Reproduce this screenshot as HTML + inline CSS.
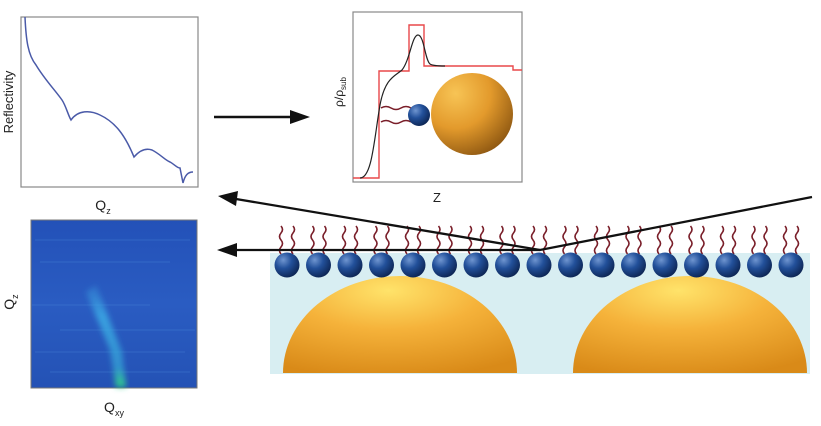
<!DOCTYPE html>
<html><head><meta charset="utf-8"><style>
html,body{margin:0;padding:0;background:#fff;width:821px;height:426px;overflow:hidden}
svg{display:block}
text{font-family:"Liberation Sans",sans-serif;fill:#222}
</style></head><body>
<svg width="821" height="426" viewBox="0 0 821 426" xmlns="http://www.w3.org/2000/svg">
<defs>
<radialGradient id="ball" cx="0.35" cy="0.3" r="0.75">
<stop offset="0" stop-color="#6f95d0"/><stop offset="0.45" stop-color="#22509a"/><stop offset="1" stop-color="#0c2452"/>
</radialGradient>
<radialGradient id="gold" cx="0.45" cy="0.15" r="0.9">
<stop offset="0" stop-color="#ffe36a"/><stop offset="0.45" stop-color="#f5b23a"/><stop offset="1" stop-color="#d98a18"/>
</radialGradient>
<radialGradient id="gold2" cx="0.3" cy="0.25" r="0.85">
<stop offset="0" stop-color="#f7c455"/><stop offset="0.5" stop-color="#e39a2c"/><stop offset="1" stop-color="#8a5410"/>
</radialGradient>
<linearGradient id="hm" x1="0" y1="0" x2="0" y2="1">
<stop offset="0" stop-color="#2351b8"/><stop offset="0.5" stop-color="#2a5cc2"/><stop offset="1" stop-color="#2452b5"/>
</linearGradient>
<linearGradient id="streak" x1="0" y1="0" x2="0" y2="1">
<stop offset="0" stop-color="#3aa0e0" stop-opacity="0.3"/><stop offset="0.3" stop-color="#3db0e8" stop-opacity="0.8"/><stop offset="0.8" stop-color="#35a8d8" stop-opacity="0.7"/><stop offset="1" stop-color="#30d080" stop-opacity="1"/>
</linearGradient>
<filter id="blur"><feGaussianBlur stdDeviation="3"/></filter>
<g id="lip">
<path d="M-6,254 q-3,-3.5 0,-7 q3,-3.5 0,-7 q-3,-3.5 0,-7 q3,-3.5 0,-7" fill="none" stroke="#7a1f2a" stroke-width="1.6"/>
<path d="M6,254 q-3,-3.5 0,-7 q3,-3.5 0,-7 q-3,-3.5 0,-7 q3,-3.5 0,-7" fill="none" stroke="#7a1f2a" stroke-width="1.6"/>
<circle cx="0" cy="265" r="12.5" fill="url(#ball)"/>
</g>
<marker id="ah" markerWidth="10" markerHeight="8" refX="1" refY="4" orient="auto" markerUnits="userSpaceOnUse"><path d="M0,4 L18,0 L18,8 Z" fill="#111"/></marker>
</defs>

<!-- plot 1 -->
<rect x="21" y="17" width="177" height="170" fill="#fff" stroke="#888" stroke-width="1.2"/>
<path d="M25,17 C26,40 28,55 36,65 C45,80 55,90 62,100 C66,106 68,115 71,120 C78,110 90,110 100,115 C115,122 125,135 134,157 C140,150 146,148 152,150 C160,154 165,160 170,162 C174,164 177,168 180,168 L183,183 C185,175 188,172 193,172" fill="none" stroke="#4a5aa8" stroke-width="1.5"/>
<text x="13" y="102" font-size="13" transform="rotate(-90 13 102)" text-anchor="middle">Reflectivity</text>
<text x="103" y="210" font-size="14" text-anchor="middle">Q<tspan font-size="9" dy="4">z</tspan></text>

<!-- arrow right -->
<line x1="214" y1="117" x2="292" y2="117" stroke="#111" stroke-width="2.5"/>
<path d="M310,117 L290,110 L290,124 Z" fill="#111"/>

<!-- plot 2 -->
<rect x="353" y="12" width="169" height="170" fill="#fff" stroke="#888" stroke-width="1.2"/>
<path d="M353,178 L379,178 L379,71 L409,71 L409,25 L424,25 L424,66 L513,66 L513,70 L522,70" fill="none" stroke="#e8484a" stroke-width="1.4"/>
<path d="M360,178 C372,178 374,140 380,105 C385,78 395,76 402,70 C410,60 412,35 418,35 C424,35 425,60 430,64 C433,66 440,66 445,66" fill="none" stroke="#222" stroke-width="1.2"/>
<ellipse cx="472" cy="114" rx="41" ry="41" fill="url(#gold2)"/>
<path d="M381,108 q5,-3 10,0 q5,3 10,0 q5,-3 10,0 M381,122 q5,-3 10,0 q5,3 10,0 q5,-3 10,0" fill="none" stroke="#7a1f2a" stroke-width="1.6"/>
<circle cx="419" cy="115" r="11" fill="url(#ball)"/>
<text x="343" y="92" font-size="12" transform="rotate(-90 343 92)" text-anchor="middle">ρ/ρ<tspan font-size="8" dy="3">sub</tspan></text>
<text x="437" y="202" font-size="13" text-anchor="middle">Z</text>

<!-- heatmap -->
<rect x="31" y="220" width="166" height="168" fill="url(#hm)" stroke="#777" stroke-width="1"/>
<g opacity="0.25" stroke="#5aa0e8" stroke-width="1">
<line x1="35" y1="240" x2="190" y2="240"/><line x1="40" y1="262" x2="170" y2="262"/><line x1="32" y1="305" x2="150" y2="305"/><line x1="60" y1="330" x2="195" y2="330"/><line x1="35" y1="352" x2="185" y2="352"/><line x1="50" y1="372" x2="190" y2="372"/>
</g>
<path d="M86,292 L96,285 L122,352 L126,387 L116,387 L110,350 Z" fill="url(#streak)" filter="url(#blur)"/>
<text x="14" y="302" font-size="14" transform="rotate(-90 14 302)" text-anchor="middle">Q<tspan font-size="9" dy="4">z</tspan></text>
<text x="114" y="412" font-size="14" text-anchor="middle">Q<tspan font-size="9" dy="4">xy</tspan></text>

<!-- substrate -->
<rect x="270" y="253" width="540" height="121" fill="#d8eef2"/>
<path d="M283,373 A117,97 0 0 1 517,373 Z" fill="url(#gold)"/>
<path d="M573,373 A117,97 0 0 1 807,373 Z" fill="url(#gold)"/>
<g>
<use href="#lip" x="287"/><use href="#lip" x="318.5"/><use href="#lip" x="350"/><use href="#lip" x="381.5"/><use href="#lip" x="413"/><use href="#lip" x="444.5"/><use href="#lip" x="476"/><use href="#lip" x="507.5"/><use href="#lip" x="539"/><use href="#lip" x="570.5"/><use href="#lip" x="602"/><use href="#lip" x="633.5"/><use href="#lip" x="665"/><use href="#lip" x="696.5"/><use href="#lip" x="728"/><use href="#lip" x="759.5"/><use href="#lip" x="791"/>
</g>

<!-- beams -->
<polyline points="812,197 540,250 236,199" fill="none" stroke="#111" stroke-width="2.3"/>
<path d="M218,196 L238,191 L236,206 Z" fill="#111"/>
<line x1="540" y1="250" x2="236" y2="250" stroke="#111" stroke-width="2.3"/>
<path d="M217,250 L237,243 L237,257 Z" fill="#111"/>
</svg>
</body></html>
